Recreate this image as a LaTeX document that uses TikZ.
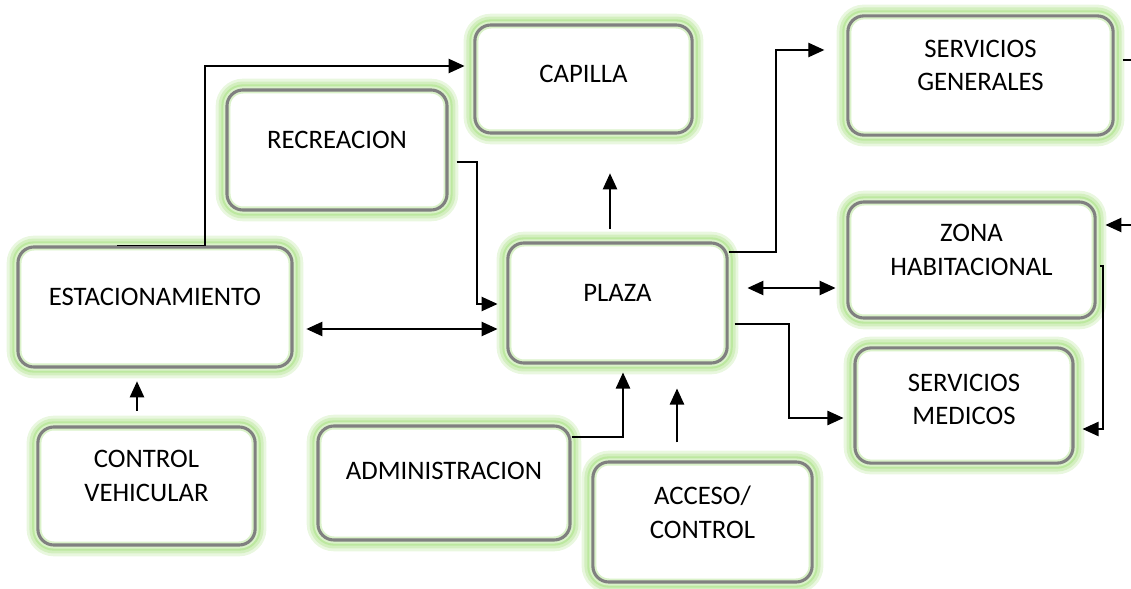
\documentclass[tikz,border=0pt]{standalone}
\usepackage{fontspec}
\setmainfont{Carlito}
\usetikzlibrary{arrows.meta, positioning}
\definecolor{boxgray}{HTML}{808080}
\definecolor{glowgreen}{HTML}{B5E594}

\begin{document}
\begin{tikzpicture}[
  x=0.025cm, y=-0.025cm,
  area/.style={draw=boxgray, line width=2.2pt, rounded corners=0.4cm,
    preaction={draw=glowgreen!30, line width=16pt},
    preaction={draw=glowgreen!60, line width=12pt},
    preaction={draw=glowgreen!90, line width=8pt},
    preaction={fill=white},
    preaction={draw=glowgreen!50, line width=5pt}},
  txt/.style={font=\fontsize{19}{24}\selectfont, align=center, yshift=0.25cm},
  link/.style={draw, line width=0.9pt},
  arr/.style={link, -{Triangle[length=0.4cm, width=0.36cm]}},
  darr/.style={link, {Triangle[length=0.4cm, width=0.36cm]}-{Triangle[length=0.4cm, width=0.36cm]}}
]
  \useasboundingbox (0,0) rectangle (1131,589);

  % Areas
  \node[area, minimum width=5.43cm, minimum height=2.7cm,
    label={[txt, yshift=-0.12cm]center:CAPILLA}] (capilla) at (583.5,79) {};
  \node[area, minimum width=5.5cm, minimum height=3cm,
    label={[txt]center:RECREACION}] (recreacion) at (337,150) {};
  \node[area, minimum width=6.63cm, minimum height=2.98cm,
    label={[txt]center:SERVICIOS\\GENERALES}] (servgen) at (980.5,75.5) {};
  \node[area, minimum width=6.85cm, minimum height=3cm,
    label={[txt]center:ESTACIONAMIENTO}] (estac) at (155,307) {};
  \node[area, minimum width=5.48cm, minimum height=3cm,
    label={[txt]center:PLAZA}] (plaza) at (617.5,303) {};
  \node[area, minimum width=6.18cm, minimum height=2.9cm,
    label={[txt]center:ZONA\\HABITACIONAL}] (zona) at (971.5,260) {};
  \node[area, minimum width=5.45cm, minimum height=2.88cm,
    label={[txt, yshift=-0.1cm]center:SERVICIOS\\MEDICOS}] (medicos) at (964,405.5) {};
  \node[area, minimum width=5.43cm, minimum height=2.95cm,
    label={[txt]center:CONTROL\\VEHICULAR}] (control) at (146.5,486) {};
  \node[area, minimum width=6.3cm, minimum height=2.85cm,
    label={[txt, yshift=0.05cm]center:ADMINISTRACION}] (admin) at (444,483) {};
  \node[area, minimum width=5.48cm, minimum height=3cm,
    label={[txt]center:ACCESO/\\CONTROL}] (acceso) at (702.5,522) {};

  % Free ends at the right edge
  \coordinate (edgezona) at (1131,225);
  \coordinate (edgeserv) at (1131,60);

  % Connectors
  \draw[arr, shorten >=0.22cm] (estac.north -| 117,0) -| (205,66)
    -- (capilla.west |- 0,66);
  \draw[arr, shorten <=0.2cm, shorten >=0.22cm] (recreacion.east |- 0,162)
    -| (477,304) -- (plaza.west |- 0,304);
  \draw[darr, shorten <=0.32cm, shorten >=0.22cm]
    (estac.east |- 0,329) -- (plaza.west |- 0,329);
  \draw[arr, shorten <=0.32cm, shorten >=0.97cm]
    (plaza.north -| 610,0) -- (capilla.south -| 610,0);
  \draw[arr, shorten >=0.55cm] (plaza.east |- 0,252) -| (776,50)
    -- (servgen.west |- 0,50);
  \draw[darr, shorten <=0.47cm, shorten >=0.27cm]
    (plaza.east |- 0,288) -- (zona.west |- 0,288);
  \draw[arr, shorten <=0.15cm, shorten >=0.25cm] (plaza.east |- 0,324)
    -| (789,418) -- (medicos.west |- 0,418);
  \draw[arr, shorten <=0.08cm, shorten >=0.2cm] (zona.east |- 0,266)
    -| (1103,429) -- (medicos.east |- 0,429);
  \draw[arr, shorten >=0.22cm] (edgezona) -- (zona.east |- edgezona);
  \draw[link, shorten <=0.2cm] (servgen.east |- edgeserv) -- (edgeserv);
  \draw[arr, shorten <=0.37cm, shorten >=0.32cm]
    (control.north -| 137,0) -- (estac.south -| 137,0);
  \draw[arr, shorten >=0.2cm] (admin.east |- 0,437) -| (plaza.south -| 623,0);
  \draw[arr, shorten <=0.45cm, shorten >=0.6cm]
    (acceso.north -| 677,0) -- (plaza.south -| 677,0);
\end{tikzpicture}
\end{document}
